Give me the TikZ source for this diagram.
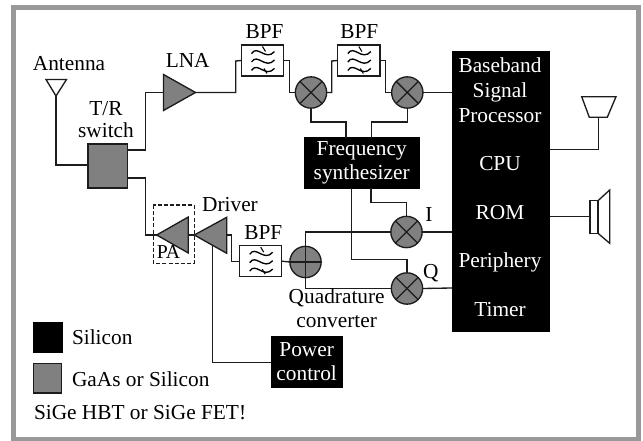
\documentclass[tikz,border=0pt]{standalone}
\usepackage{fontspec}
\setmainfont{Liberation Serif}
\definecolor{ink}{HTML}{1C1C1C}
\definecolor{chip}{HTML}{808080}
\definecolor{framegray}{HTML}{999999}
\newcommand{\bxn}[6][plainbox]{\node[#1,minimum width={(#5-#3)*0.75pt},minimum height={(#6-#4)*0.75pt}] (#2) at ({(#3+#5)/2},{(#4+#6)/2}) {};}
\newcommand{\lbl}[4][lab]{\node[#1] (#2) at (#3) {#4};}
\tikzset{
  wire/.style={draw=ink,line width=1pt,line join=miter},
  plainbox/.style={draw=ink,line width=1pt,fill=white,inner sep=0pt,outer sep=0pt,rectangle},
  blackbox/.style={draw=black,fill=black,line width=0.4pt,inner sep=0pt,outer sep=0pt,rectangle},
  graybox/.style={draw=ink,fill=chip,line width=1pt,inner sep=0pt,outer sep=0pt,rectangle},
  roundel/.style={circle,draw=ink,fill=chip,line width=1pt,inner sep=0pt,outer sep=0pt,minimum size=23.5pt},
  lab/.style={anchor=base,inner sep=0pt,outer sep=0pt,text=black,font=\fontsize{16}{16}\selectfont},
  smalllab/.style={lab,font=\fontsize{14.8}{15}\selectfont},
  wlab/.style={lab,text=white},
  leftlab/.style={lab,anchor=base west},
  tri/.style={draw=ink,fill=chip,line width=1pt,line join=miter},
  outline/.style={draw=ink,fill=white,line width=1pt,line join=miter},
  waves/.style={draw=black,line width=1pt},
}
\newcommand{\filt}[1]{%
  \foreach \dy in {-8.4,0,8.4}{
    \draw[waves] ($(#1)+(-11,{\dy+1.5})$) .. controls ($(#1)+(-5,{\dy-8})$) and ($(#1)+(3,{\dy+9.5})$) .. ($(#1)+(12,{\dy-0.5})$);
  }
  \draw[waves,line width=0.8pt] ($(#1)+(0,-14)$) -- ($(#1)+(3,-9)$);
  \draw[waves,line width=0.8pt] ($(#1)+(1.5,8)$) -- ($(#1)+(4.5,13)$);
}
\newcommand{\mix}[1]{\draw[wire] (#1.north east) -- (#1.south west) (#1.north west) -- (#1.south east);}
\usetikzlibrary{calc}
\begin{document}
\begin{tikzpicture}[x=0.75pt,y=-0.75pt]
\useasboundingbox (0,0) rectangle (643,441);
\fill[white] (0,0) rectangle (643,441);
\draw[framegray,line width=3.4pt] (13.5,7.3) rectangle (638.5,439);

% boxes
\bxn[graybox]{sw}{88}{144}{127.5}{188}
\bxn{bpfa}{241.5}{45}{283.5}{76}
\bxn{bpfb}{337.7}{45}{380}{76}
\bxn{bpfc}{239.7}{245.7}{281.7}{276.7}
\bxn[blackbox]{bb}{452}{51}{549.5}{331}
\bxn[blackbox]{fs}{304.3}{137.7}{419}{188}
\bxn[blackbox]{pc}{271}{336.7}{342.7}{387.7}
\bxn[blackbox]{legk}{33.3}{322.3}{62}{352.7}
\bxn[graybox]{legg}{33.8}{363.8}{61.5}{393}

% mixers and adder
\node[roundel] (ma) at (311,92.5) {};
\node[roundel] (mb) at (407.3,92.5) {};
\node[roundel] (mi) at (406.5,232) {};
\node[roundel] (mq) at (407,288.5) {};
\node[roundel] (add) at (305.5,262) {};

% amplifier and feed coordinates
\coordinate (ant) at (56,96);
\coordinate (lnain) at (163.5,92.5);
\coordinate (lnaout) at (195.5,92.5);
\coordinate (patip) at (156.7,235);
\coordinate (paback) at (188.3,235);
\coordinate (drtip) at (194.3,235);
\coordinate (drback) at (226.7,235);
\coordinate (drctl) at (212.3,245);
\coordinate (swin) at (88,165);
\coordinate (swa) at (127.5,150);
\coordinate (swb) at (127.5,178);
\coordinate (fsa) at (346,137.7);
\coordinate (fsb) at (371.7,137.7);
\coordinate (fsc) at (351.3,188);
\coordinate (fsd) at (371,188);
\coordinate (horn) at (598.3,117.3);
\coordinate (spk) at (590,216.7);
\coordinate (bbh) at (549.5,149.7);
\coordinate (bbs) at (549.5,216.7);
\coordinate (bbm) at (452,92.5);
\coordinate (bbi) at (452,232);
\coordinate (bbq) at (452,288);

% connectors
\draw[wire] (ant) |- (swin);
\draw[wire] (swa) -| (145.3,92.5) -- (lnain);
\draw[wire] (lnaout) -| (235.7,61) -- (bpfa.west);
\draw[wire] (bpfa.east) -| (289.7,92.5) -- (ma.west);
\draw[wire] (ma.east) -| (331.7,61) -- (bpfb.west);
\draw[wire] (bpfb.east) -| (385.7,92.5) -- (mb.west);
\draw[wire] (mb.east) -- (bbm);
\draw[wire] (ma.south) |- (346,122) -- (fsa);
\draw[wire] (mb.south) |- (371.7,122) -- (fsb);
\draw[wire] (fsc) |- (407,259.3) -- (mq.north);
\draw[wire] (fsd) |- (406.5,202.7) -- (mi.north);
\draw[wire] (mi.east) -- (bbi);
\draw[wire] (mq.east) -- (bbq);
\draw[wire] (mi.west) -| (add.north);
\draw[wire] (mq.west) -| (add.south);
\draw[wire] (add.north) -- (add.south);
\draw[wire] (add.west) -- (add.east);
\draw[wire] (bpfc.east) -- (add.west);
\draw[wire] (bpfc.west) -| (231.7,235) -- (drback);
\draw[wire] (paback) -- (drtip);
\draw[wire] (patip) -| (145.3,178) -- (swb);
\draw[wire] (drctl) |- (pc.west);
\draw[wire] (bbh) -| (horn);
\draw[wire] (bbs) -- (spk);

% symbols
\draw[outline] (46,79.5) -- (66.5,79.5) -- (ant) -- cycle;
\draw[tri] (163.5,74.5) -- (163.5,110.5) -- (lnaout) -- cycle;
\draw[tri] (188.3,217) -- (188.3,253) -- (patip) -- cycle;
\draw[tri] (226.7,217.3) -- (226.7,253.3) -- (drtip) -- cycle;
\draw[draw=ink,line width=0.8pt,dash pattern=on 3pt off 1.6pt] (153.3,205) rectangle (194.3,263.3);
\draw[outline] (581.7,96.7) -- (616,96.7) -- (607.3,117.3) -- (589.3,117.3) -- cycle;
\draw[outline] (598,200.7) -- (609.7,190) -- (609.7,243.3) -- (598,233.3) -- cycle;
\draw[outline] (590,200.7) rectangle (598,233.3);
\mix{ma}\mix{mb}\mix{mi}\mix{mq}
\filt{bpfa.center}\filt{bpfb.center}\filt{bpfc.center}

% labels
\lbl{tant}{69,71}{Antenna}
\lbl{tlna}{187.7,68}{LNA}
\lbl{ttr}{106,115.7}{T/R}
\lbl{tsw}{106,138}{switch}
\lbl{tba}{264.5,39}{BPF}
\lbl{tbb}{359.3,39}{BPF}
\lbl{tbc}{263.3,240}{BPF}
\lbl{tdr}{230,212}{Driver}
\lbl[smalllab]{tpa}{168.5,259}{PA}
\lbl{ti}{429,222}{I}
\lbl{tq}{430.7,279}{Q}
\lbl{tqa}{336.7,304}{Quadrature}
\lbl{tqb}{336.7,327.7}{converter}
\lbl[wlab]{tfa}{361.7,155.7}{Frequency}
\lbl[wlab]{tfb}{361.7,180}{synthesizer}
\lbl[wlab]{tpca}{306.7,356.7}{Power}
\lbl[wlab]{tpcb}{306.7,381}{control}
\lbl[wlab]{tb1}{500,73}{Baseband}
\lbl[wlab]{tb2}{500,97.7}{Signal}
\lbl[wlab]{tb3}{500,122.7}{Processor}
\lbl[wlab]{tb4}{500,170.7}{CPU}
\lbl[wlab]{tb5}{500,220}{ROM}
\lbl[wlab]{tb6}{500,268}{Periphery}
\lbl[wlab]{tb7}{500,317}{Timer}
\lbl[leftlab]{tl1}{72,345}{Silicon}
\lbl[leftlab]{tl2}{72,386.7}{GaAs or Silicon}
\lbl[leftlab]{tl3}{34,420}{SiGe HBT or SiGe FET!}
\end{tikzpicture}
\end{document}
